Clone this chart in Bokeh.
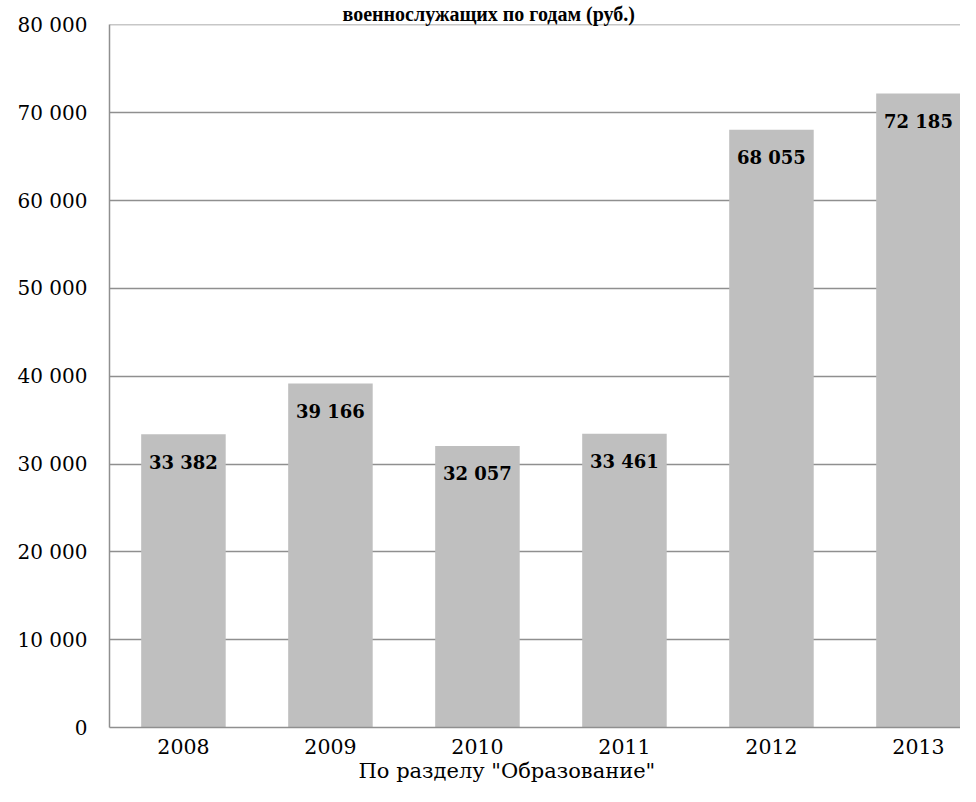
from bokeh.plotting import figure
from bokeh.models import ColumnDataSource, Range1d, FixedTicker, Title
from bokeh.core.properties import value
from bokeh.embed import file_html
from bokeh.resources import INLINE

years = ["2008", "2009", "2010", "2011", "2012", "2013"]
amounts = [33382, 39166, 32057, 33461, 68055, 72185]
y_ticks = [0, 10000, 20000, 30000, 40000, 50000, 60000, 70000, 80000]
title_text = "военнослужащих по годам (руб.)"
x_title = 'По разделу "Образование"'

def fmt(v):
    return f"{v:,}".replace(",", " ")

idx = list(range(len(years)))
src = ColumnDataSource(dict(x=idx, top=amounts, lab=[fmt(v) for v in amounts]))

p = figure(width=960, height=786, output_backend="svg", toolbar_location=None,
           x_range=Range1d(-0.503, 5.286), y_range=Range1d(0, 80050),
           min_border_left=109, min_border_right=0, min_border_top=22, min_border_bottom=59)
p.outline_line_color = None
p.background_fill_color = "white"

p.vbar(x="x", top="top", width=0.575, source=src, fill_color="#bfbfbf", line_color=None)
p.text(x="x", y="top", text="lab", source=src, text_align="center", text_baseline="middle",
       y_offset=28, text_font=value("DejaVu Serif"), text_font_style="bold",
       text_font_size="18px", text_color="black")

grid_col = "#8f8f8f"
p.xgrid.grid_line_color = None
p.ygrid.ticker = FixedTicker(ticks=y_ticks)
p.ygrid.grid_line_color = grid_col
p.ygrid.grid_line_width = 1.5

p.yaxis.ticker = FixedTicker(ticks=y_ticks)
p.yaxis.major_label_overrides = {t: fmt(t) for t in y_ticks}
p.xaxis.ticker = FixedTicker(ticks=idx)
p.xaxis.major_label_overrides = {i: y for i, y in zip(idx, years)}

for ax in (p.xaxis, p.yaxis):
    ax.axis_line_color = grid_col
    ax.axis_line_width = 1.5
    ax.major_tick_line_color = None
    ax.minor_tick_line_color = None
    ax.major_tick_out = 0
    ax.major_tick_in = 0
    ax.major_label_text_font = "DejaVu Serif"
    ax.major_label_text_font_size = "20px"
    ax.major_label_text_color = "black"
p.yaxis.major_label_standoff = 22
p.xaxis.major_label_standoff = 11
p.xaxis.major_label_text_font_size = "20.5px"

p.add_layout(Title(text=title_text, align="left", offset=233, standoff=0,
                   text_font="Liberation Serif", text_font_style="bold",
                   text_font_size="20px", text_color="black"), "above")
p.add_layout(Title(text=x_title, align="left", offset=249, standoff=0,
                   text_font="DejaVu Serif", text_font_style="normal",
                   text_font_size="21px", text_color="black"), "below")

open("out.html", "w").write(file_html(p, INLINE))
